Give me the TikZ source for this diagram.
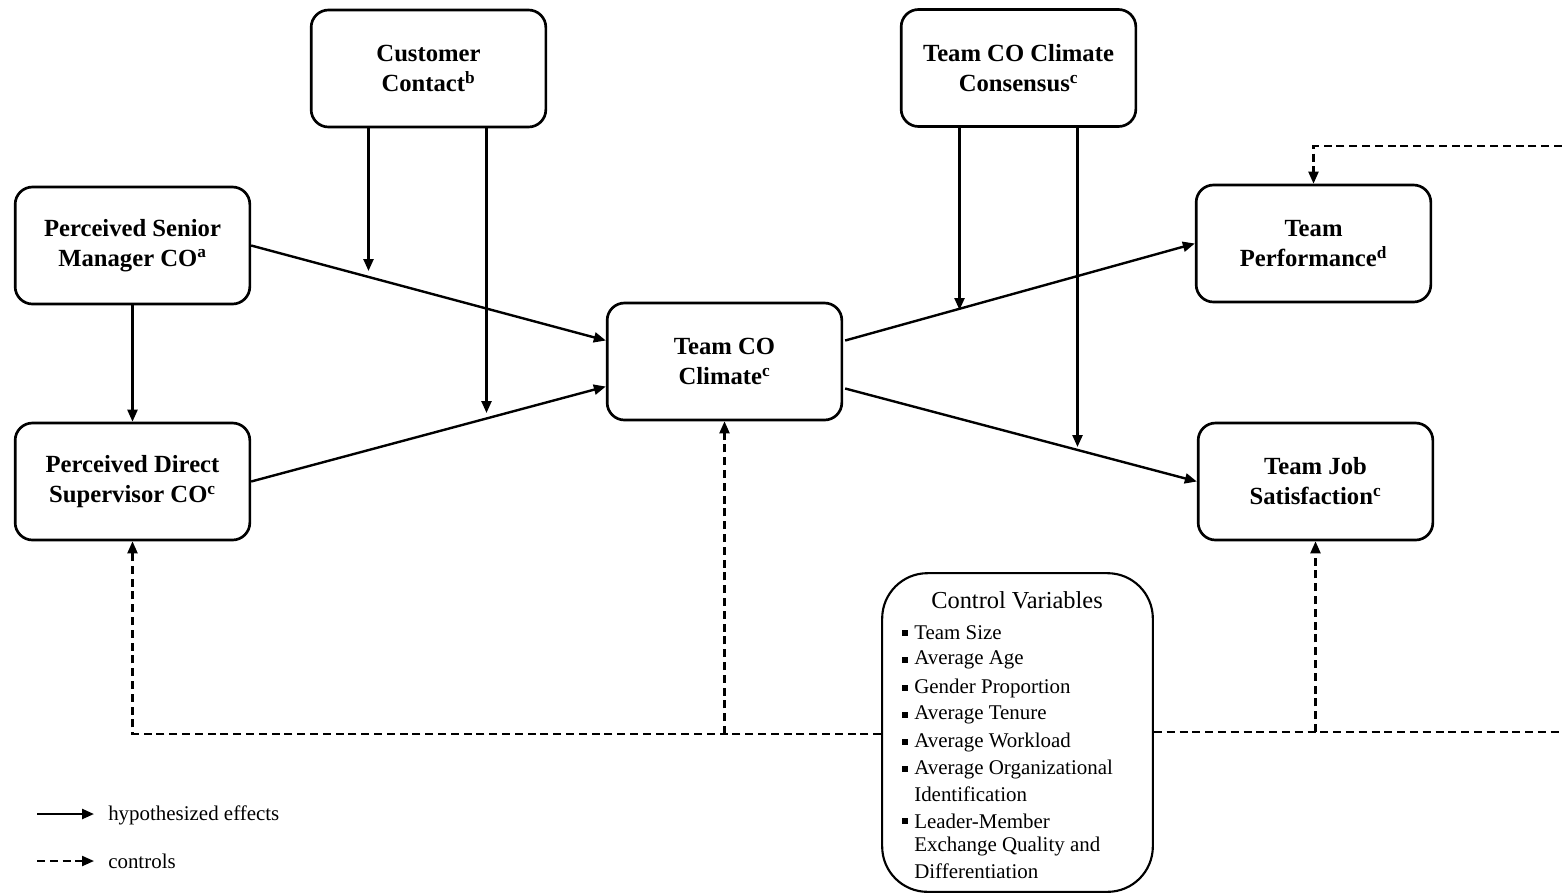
\documentclass[tikz,border=0pt]{standalone}
\usepackage{fontspec}
\setmainfont{Liberation Serif}
\usetikzlibrary{arrows.meta,calc}
\begin{document}
\begin{tikzpicture}[x=0.75pt,y=-0.75pt,
  box/.style={draw,line width=2pt,rounded corners=13pt,minimum width=176pt,minimum height=87.75pt,inner sep=0pt,align=center,font=\bfseries\fontsize{18.5}{22.5}\selectfont},
  ctrlbox/.style={draw,line width=1.6pt,rounded corners=34pt,minimum width=203pt,minimum height=239pt,inner sep=0pt},
  hyp/.style={line width=1.8pt,-{Triangle[length=9pt,width=7.5pt]}},
  ctl/.style={line width=1.6pt,dash pattern=on 6pt off 3.6pt,-{Triangle[length=9pt,width=7.5pt]}},
  ctlline/.style={line width=1.6pt,dash pattern=on 6pt off 3.6pt},
  item/.style={anchor=west,inner sep=0pt,font=\fontsize{15.7}{18}\selectfont},
  bul/.style={fill,inner sep=0pt,minimum size=4pt},
  leg/.style={anchor=west,inner sep=0pt,font=\fontsize{15.7}{18}\selectfont}]
\useasboundingbox (0,0) rectangle (1562,894);

% boxes
\node[box] (cust) at (428.5,68.5) {\raisebox{-2pt}{\shortstack{}}Customer\\Contact\textsuperscript{b}};
\node[box] (cons) at (1018.5,68) {Team CO Climate\\Consensus\textsuperscript{c}};
\node[box] (senior) at (132.5,245.5) {Perceived Senior\\Manager CO\textsuperscript{a}};
\node[box] (sup) at (132.5,481.5) {Perceived Direct\\Supervisor CO\textsuperscript{c}};
\node[box] (clim) at (724.5,361.5) {Team CO\\Climate\textsuperscript{c}};
\node[box] (perf) at (1313.5,243.5) {Team\\Performance\textsuperscript{d}};
\node[box] (jobs) at (1315.5,481.5) {Team Job\\Satisfaction\textsuperscript{c}};

% control variables
\node[ctrlbox] (ctrl) at (1017.5,732.5) {};
\node[inner sep=0pt,font=\fontsize{18.3}{22}\selectfont] (ctitle) at (1017,600) {Control Variables};
\foreach \n/\y/\t in {1/633/Team Size,2/660/Average Age,3/688/Gender Proportion,4/715/Average Tenure,5/742/Average Workload,6/769/Average Organizational,8/821/Leader-Member}{
  \node[bul] (b\n) at (905,\y) {};
  \node[item] (i\n) at (914,\y) {\t};
}
\node[item] (i7) at (914,794) {Identification};
\node[item] (i9) at (914,846) {Exchange Quality and};
\node[item] (i10) at (914,871) {Differentiation};

% hypothesized paths
\draw[hyp] (senior.east) -- ($(clim.west)+(0,-21)$);
\draw[hyp] (sup.east) -- ($(clim.west)+(0,25)$);
\draw[hyp] (senior.south) -- (sup.north);
\draw[hyp] ($(clim.east)+(2,-21)$) -- (perf.west);
\draw[hyp] ($(clim.east)+(2,27)$) -- (jobs.west);

% moderators
\coordinate (m1) at (368.5,271);
\coordinate (m2) at (486.5,413);
\coordinate (m3) at (959.5,310);
\coordinate (m4) at (1077.5,447);
\draw[hyp] (cust.south -| m1) -- (m1);
\draw[hyp] (cust.south -| m2) -- (m2);
\draw[hyp] (cons.south -| m3) -- (m3);
\draw[hyp] (cons.south -| m4) -- (m4);

% controls
\coordinate (cl) at ($(ctrl.west)+(0,1.5)$);
\coordinate (cr) at ($(ctrl.east)+(0,-0.5)$);
\coordinate (edgeA) at (1562,732);
\coordinate (edgeB) at (1562,146);
\draw[ctl] (cl) -| (sup.south);
\draw[ctl] (clim.south |- cl) -- (clim.south);
\draw[ctlline] (cr) -- (edgeA);
\draw[ctl] (jobs.south |- cr) -- (jobs.south);
\draw[ctl] (edgeB) -| (perf.north);

% legend
\coordinate (l1a) at (37,814);
\coordinate (l1b) at (94,814);
\coordinate (l2a) at (37,861);
\coordinate (l2b) at (94,861);
\draw[hyp] (l1a) -- (l1b);
\draw[ctl] (l2a) -- (l2b);
\node[leg] (lt1) at (108,815) {hypothesized effects};
\node[leg] (lt2) at (108,861) {controls};
\end{tikzpicture}
\end{document}
